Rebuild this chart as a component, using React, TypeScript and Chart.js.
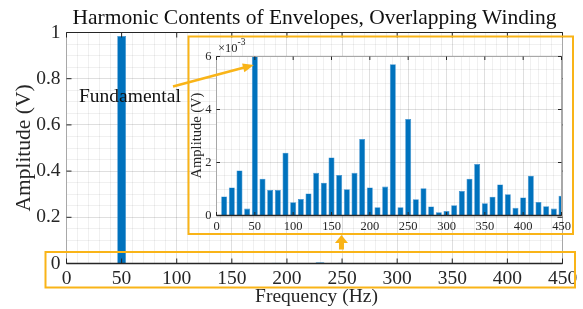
import React, { useEffect, useRef } from 'react';
import { Chart, registerables } from 'chart.js';

Chart.register(...registerables);

// ---------------- data ----------------
const FREQUENCIES_HZ = [
  10, 20, 30, 40, 50, 60, 70, 80, 90, 100,
  110, 120, 130, 140, 150, 160, 170, 180, 190, 200,
  210, 220, 230, 240, 250, 260, 270, 280, 290, 300,
  310, 320, 330, 340, 350, 360, 370, 380, 390, 400,
  410, 420, 430, 440, 450,
];
const AMPLITUDES_V = [
  0.72e-3, 1.06e-3, 1.70e-3, 0.26e-3, 0.985, 1.39e-3, 0.96e-3, 0.96e-3, 2.37e-3, 0.50e-3,
  0.62e-3, 0.83e-3, 1.61e-3, 1.24e-3, 2.19e-3, 1.53e-3, 0.99e-3, 1.61e-3, 2.89e-3, 1.06e-3,
  0.31e-3, 1.09e-3, 5.71e-3, 0.31e-3, 3.64e-3, 0.61e-3, 1.03e-3, 0.34e-3, 0.12e-3, 0.17e-3,
  0.39e-3, 0.92e-3, 1.39e-3, 1.94e-3, 0.46e-3, 0.71e-3, 1.17e-3, 0.80e-3, 0.29e-3, 0.68e-3,
  1.50e-3, 0.51e-3, 0.35e-3, 0.26e-3, 0.75e-3,
];
const X_TICKS = [0, 50, 100, 150, 200, 250, 300, 350, 400, 450];
const MAIN_Y_TICKS = [0, 0.2, 0.4, 0.6, 0.8, 1];
const INSET_Y_TICKS_MILLI = [0, 2, 4, 6];

const TITLE = 'Harmonic Contents of Envelopes, Overlapping Winding';
const X_LABEL = 'Frequency (Hz)';
const Y_LABEL = 'Amplitude (V)';
const ANNOTATION_TEXT = 'Fundamental';

// ---------------- style ----------------
const SERIF = "'Liberation Serif', 'Times New Roman', serif";
const BLUE = '#0072BD';
const BAR_EDGE = '#3a8fcf';
const TEXT = '#262626';
const GOLD = '#F9B418';
const MAJOR_GRID = 'rgba(38,38,38,0.15)';
const MINOR_GRID = 'rgba(38,38,38,0.07)';
const SIDE_AXIS = '#a8a8a8';

const near = (v: number, list: number[], tol = 1e-7) => list.some((t) => Math.abs(t - v) < tol);

const points = () => FREQUENCIES_HZ.map((f, i) => ({ x: f, y: AMPLITUDES_V[i] }));

function line(ctx: CanvasRenderingContext2D, x1: number, y1: number, x2: number, y2: number, color: string, w = 1) {
  ctx.beginPath();
  ctx.strokeStyle = color;
  ctx.lineWidth = w;
  ctx.moveTo(x1, y1);
  ctx.lineTo(x2, y2);
  ctx.stroke();
}

function drawBox(chart: any, xTicks: number[], yTicks: number[], tickLen: number, topColor: string, bottomW: number) {
  const { ctx, chartArea: a } = chart;
  const xs = chart.scales.x;
  const ys = chart.scales.y;
  ctx.save();
  line(ctx, a.left, a.top, a.left, a.bottom, SIDE_AXIS);
  line(ctx, a.right, a.top, a.right, a.bottom, SIDE_AXIS);
  line(ctx, a.left, a.top, a.right, a.top, topColor);
  line(ctx, a.left, a.bottom, a.right, a.bottom, TEXT, bottomW);
  xTicks.forEach((v) => {
    const px = xs.getPixelForValue(v);
    line(ctx, px, a.bottom, px, a.bottom - tickLen, TEXT);
    line(ctx, px, a.top, px, a.top + tickLen, TEXT);
  });
  yTicks.forEach((v) => {
    const py = ys.getPixelForValue(v);
    line(ctx, a.left, py, a.left + tickLen, py, TEXT);
    line(ctx, a.right, py, a.right - tickLen, py, TEXT);
  });
  ctx.restore();
}

function arrowHead(ctx: CanvasRenderingContext2D, tx: number, ty: number, fx: number, fy: number, len: number, half: number) {
  const ang = Math.atan2(ty - fy, tx - fx);
  const bx = tx - len * Math.cos(ang);
  const by = ty - len * Math.sin(ang);
  const nx = -Math.sin(ang) * half;
  const ny = Math.cos(ang) * half;
  ctx.beginPath();
  ctx.moveTo(tx, ty);
  ctx.lineTo(bx + nx, by + ny);
  ctx.lineTo(bx - nx, by - ny);
  ctx.closePath();
  ctx.fill();
}

export default function App() {
  const mainRef = useRef<HTMLCanvasElement | null>(null);
  const insetRef = useRef<HTMLCanvasElement | null>(null);

  useEffect(() => {
    const mainPlugin = {
      id: 'mainDecor',
      beforeDraw(chart: any) {
        const { ctx, width, height } = chart;
        ctx.save();
        ctx.fillStyle = '#ffffff';
        ctx.fillRect(0, 0, width, height);
        ctx.restore();
      },
      afterDatasetsDraw(chart: any) {
        drawBox(chart, X_TICKS, MAIN_Y_TICKS, 5, TEXT, 1.3);
      },
      afterDraw(chart: any) {
        const { ctx, chartArea: a } = chart;
        ctx.save();
        ctx.fillStyle = '#111111';
        ctx.textAlign = 'center';
        ctx.textBaseline = 'alphabetic';
        ctx.font = `21.5px ${SERIF}`;
        ctx.fillText(TITLE, (a.left + a.right) / 2, 24);
        ctx.fillStyle = TEXT;
        ctx.font = `19.5px ${SERIF}`;
        ctx.fillText(X_LABEL, (a.left + a.right) / 2 + 2, 302.3);
        ctx.translate(30, (a.top + a.bottom) / 2);
        ctx.rotate(-Math.PI / 2);
        ctx.font = `21.5px ${SERIF}`;
        ctx.fillText(Y_LABEL, 0, 0);
        ctx.restore();
      },
    };

    const main = new Chart(mainRef.current as HTMLCanvasElement, {
      type: 'bar',
      data: {
        datasets: [
          {
            data: points(),
            backgroundColor: BLUE,
            borderColor: BAR_EDGE,
            borderWidth: 0.6,
            barPercentage: 0.8,
            categoryPercentage: 1,
          },
        ],
      },
      options: {
        animation: false,
        responsive: false,
        events: [],
        layout: { padding: { left: 0, top: 32.5, right: 20.5, bottom: 0 } },
        plugins: { legend: { display: false }, tooltip: { enabled: false }, title: { display: false } },
        scales: {
          x: {
            type: 'linear',
            min: 0,
            max: 450,
            offset: false,
            afterFit: (s: any) => { s.height = 45.5; },
            ticks: {
              stepSize: 10,
              autoSkip: false,
              maxRotation: 0,
              padding: 4,
              color: TEXT,
              font: { family: SERIF, size: 19.5 },
              callback: (v: any) => (near(Number(v), X_TICKS) ? String(v) : ''),
            },
            grid: {
              offset: false,
              drawTicks: false,
              color: (c: any) => (near(c.tick?.value, X_TICKS) ? MAJOR_GRID : MINOR_GRID),
            },
            border: { display: false },
          },
          y: {
            min: 0,
            max: 1,
            afterFit: (s: any) => { s.width = 66.5; },
            ticks: {
              stepSize: 0.05,
              autoSkip: false,
              padding: 6,
              color: TEXT,
              font: { family: SERIF, size: 19.5 },
              callback: (v: any) => (near(Number(v), MAIN_Y_TICKS) ? String(Math.round(Number(v) * 10) / 10) : ''),
            },
            grid: {
              drawTicks: false,
              color: (c: any) => (near(c.tick?.value, MAIN_Y_TICKS) ? MAJOR_GRID : MINOR_GRID),
            },
            border: { display: false },
          },
        },
      },
      plugins: [mainPlugin],
    } as any);

    const insetPlugin = {
      id: 'insetDecor',
      beforeDraw(chart: any) {
        const { ctx, chartArea: a } = chart;
        ctx.save();
        ctx.fillStyle = '#ffffff';
        ctx.fillRect(a.left, a.top, a.right - a.left, a.bottom - a.top);
        ctx.restore();
      },
      afterDatasetsDraw(chart: any) {
        drawBox(chart, X_TICKS, INSET_Y_TICKS_MILLI.map((v) => v / 1000), 3.5, SIDE_AXIS, 1.6);
      },
      afterDraw(chart: any) {
        const { ctx, chartArea: a } = chart;
        const xs = chart.scales.x;
        const ys = chart.scales.y;
        ctx.save();
        // y label
        ctx.fillStyle = TEXT;
        ctx.textAlign = 'center';
        ctx.textBaseline = 'alphabetic';
        ctx.save();
        ctx.translate(200.5, (a.top + a.bottom) / 2 - 0.5);
        ctx.rotate(-Math.PI / 2);
        ctx.font = `14.5px ${SERIF}`;
        ctx.fillText(Y_LABEL, 0, 0);
        ctx.restore();
        // exponent
        ctx.textAlign = 'left';
        ctx.font = `12.5px ${SERIF}`;
        ctx.fillText('\u00d710', a.left + 1.5, 51.7);
        const w = ctx.measureText('\u00d710').width;
        ctx.font = `9.5px ${SERIF}`;
        ctx.fillText('-3', a.left + 1.5 + w, 45);

        // annotation rectangles
        ctx.strokeStyle = GOLD;
        ctx.lineWidth = 2;
        ctx.strokeRect(188.5, 36.5, 384.5, 197.5);
        ctx.strokeRect(45.5, 252, 529.5, 35.5);

        // up arrow between the two boxes
        ctx.fillStyle = GOLD;
        const ax = xs.getPixelForValue(163);
        ctx.beginPath();
        ctx.moveTo(ax, 235);
        ctx.lineTo(ax + 6.5, 243);
        ctx.lineTo(ax + 2.5, 243);
        ctx.lineTo(ax + 2.5, 249.5);
        ctx.lineTo(ax - 2.5, 249.5);
        ctx.lineTo(ax - 2.5, 243);
        ctx.lineTo(ax - 6.5, 243);
        ctx.closePath();
        ctx.fill();

        // Fundamental arrow: tip at the 50 Hz bar top in the inset
        const tipX = xs.getPixelForValue(50) - 1;
        const tipY = ys.getPixelForValue(0.006) + 8.5;
        const fromX = 173;
        const fromY = 86.5;
        ctx.lineWidth = 2.6;
        const ang = Math.atan2(tipY - fromY, tipX - fromX);
        line(ctx, fromX, fromY, tipX - 9 * Math.cos(ang), tipY - 9 * Math.sin(ang), GOLD, 2.6);
        arrowHead(ctx, tipX, tipY, fromX, fromY, 11, 4.5);

        // Fundamental text
        ctx.fillStyle = '#111111';
        ctx.font = `19.5px ${SERIF}`;
        ctx.textAlign = 'left';
        ctx.fillText(ANNOTATION_TEXT, 79, 101.7);
        ctx.restore();
      },
    };

    const inset = new Chart(insetRef.current as HTMLCanvasElement, {
      type: 'bar',
      data: {
        datasets: [
          {
            data: points(),
            backgroundColor: BLUE,
            borderColor: BAR_EDGE,
            borderWidth: 0.6,
            barPercentage: 0.78,
            categoryPercentage: 1,
          },
        ],
      },
      options: {
        animation: false,
        responsive: false,
        events: [],
        layout: { padding: { left: 186.5, top: 56.5, right: 21.5, bottom: 73.5 } },
        plugins: { legend: { display: false }, tooltip: { enabled: false }, title: { display: false } },
        scales: {
          x: {
            type: 'linear',
            min: 0,
            max: 450,
            offset: false,
            afterFit: (s: any) => { s.height = 20; },
            ticks: {
              stepSize: 10,
              autoSkip: false,
              maxRotation: 0,
              padding: 4,
              color: TEXT,
              font: { family: SERIF, size: 12.5 },
              callback: (v: any) => (near(Number(v), X_TICKS) ? String(v) : ''),
            },
            grid: {
              offset: false,
              drawTicks: false,
              color: (c: any) => (near(c.tick?.value, X_TICKS) ? MAJOR_GRID : MINOR_GRID),
            },
            border: { display: false },
          },
          y: {
            min: 0,
            max: 0.006,
            afterFit: (s: any) => { s.width = 30; },
            ticks: {
              stepSize: 0.0005,
              autoSkip: false,
              padding: 5,
              color: TEXT,
              font: { family: SERIF, size: 12.5 },
              callback: (v: any) => {
                const m = Number(v) * 1000;
                return near(m, INSET_Y_TICKS_MILLI, 1e-4) ? String(Math.round(m)) : '';
              },
            },
            grid: {
              drawTicks: false,
              color: (c: any) => (near((c.tick?.value ?? 0) * 1000, INSET_Y_TICKS_MILLI, 1e-4) ? MAJOR_GRID : MINOR_GRID),
            },
            border: { display: false },
          },
        },
      },
      plugins: [insetPlugin],
    } as any);

    return () => {
      main.destroy();
      inset.destroy();
    };
  }, []);

  return (
    <div style={{ position: 'fixed', left: 0, top: 0, width: 583, height: 309, background: '#fff' }}>
      <canvas ref={mainRef} width={583} height={309} style={{ position: 'absolute', left: 0, top: 0, width: 583, height: 309 }} />
      <canvas ref={insetRef} width={583} height={309} style={{ position: 'absolute', left: 0, top: 0, width: 583, height: 309 }} />
    </div>
  );
}
